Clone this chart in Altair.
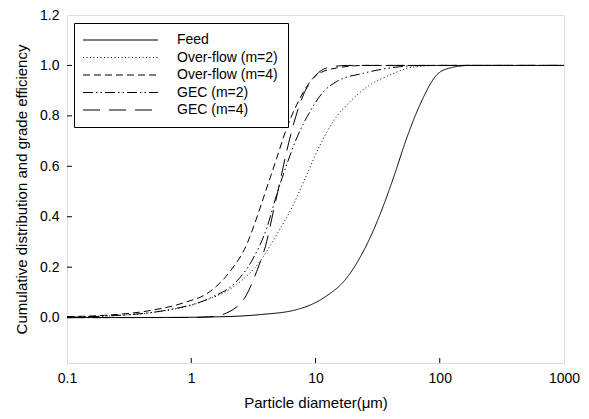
import altair as alt
import pandas as pd

# ---- data ----
series_names = ["Feed", "Over-flow (m=2)", "Over-flow (m=4)", "GEC (m=2)", "GEC (m=4)"]

feed_d = [0.1, 0.5, 1.6, 3.6, 7.1, 11.6, 17.8, 24.3, 33, 42.3, 54.2, 69.3, 94.5, 121, 175, 1000]
feed_y = [0.0, 0.0005, 0.003, 0.012, 0.032, 0.078, 0.157, 0.263, 0.408, 0.553, 0.712, 0.844, 0.962, 0.99, 1.0, 1.0]

of2_d = [0.1, 0.2, 0.466, 1.25, 2.32, 3.57, 4.87, 6.63, 8.5, 10.9, 13.9, 19.0, 27.5, 39.8, 60, 100, 1000]
of2_y = [0.002, 0.006, 0.019, 0.065, 0.131, 0.223, 0.329, 0.448, 0.566, 0.685, 0.778, 0.857, 0.923, 0.962, 0.993, 1.0, 1.0]

of4_d = [0.1, 0.2, 0.466, 0.86, 1.42, 2.05, 2.79, 3.36, 4.05, 4.87, 5.86, 7.06, 8.5, 10.2, 14.8, 25, 1000]
of4_y = [0.004, 0.009, 0.028, 0.058, 0.104, 0.183, 0.289, 0.395, 0.514, 0.632, 0.751, 0.844, 0.916, 0.962, 0.99, 1.0, 1.0]

gec2_d = [0.1, 0.2, 0.675, 1.42, 2.32, 3.16, 4.05, 4.87, 5.86, 7.06, 9.03, 11.6, 14.8, 24.3, 48, 80, 1000]
gec2_y = [0.002, 0.006, 0.032, 0.078, 0.144, 0.236, 0.355, 0.487, 0.606, 0.712, 0.817, 0.896, 0.936, 0.969, 0.995, 1.0, 1.0]

gec4_d = [0.1, 1.0, 1.42, 2.05, 2.79, 3.36, 4.05, 4.58, 5.18, 5.86, 6.63, 7.98, 9.6, 12.3, 18, 1000]
gec4_y = [0.0, 0.0005, 0.003, 0.025, 0.091, 0.183, 0.302, 0.421, 0.540, 0.659, 0.764, 0.883, 0.949, 0.99, 1.0, 1.0]

x_ticks = [0.1, 1, 10, 100, 1000]
y_ticks = [0.0, 0.2, 0.4, 0.6, 0.8, 1.0, 1.2]

# ---- build table ----
rows = []
for name, ds, ys in zip(series_names,
                        [feed_d, of2_d, of4_d, gec2_d, gec4_d],
                        [feed_y, of2_y, of4_y, gec2_y, gec4_y]):
    for i, (d, y) in enumerate(zip(ds, ys)):
        rows.append({"series": name, "d": d, "y": y, "order": i})
df = pd.DataFrame(rows)

W, H = 497, 348
FONT = "Liberation Sans"

xscale = alt.Scale(type="log", domain=[0.1, 1000], nice=False)
yscale = alt.Scale(domain=[-0.18, 1.2], nice=False, zero=False)

dash_range = [[1, 0], [1, 2.5], [7, 4], [10, 3, 1.5, 3, 1.5, 3], [17, 9]]

lines = alt.Chart(df).mark_line(color="black", strokeWidth=1, interpolate="monotone", clip=True).encode(
    x=alt.X("d:Q", scale=xscale,
            axis=alt.Axis(values=x_ticks, format="~g", title="Particle diameter(μm)",
                          grid=False, ticks=False, domain=False, labelPadding=8,
                          titlePadding=10, labelFontSize=14, titleFontSize=15,
                          labelFont=FONT, titleFont=FONT, titleFontWeight="normal",
                          labelColor="black", titleColor="black", labelFlush=False)),
    y=alt.Y("y:Q", scale=yscale,
            axis=alt.Axis(values=y_ticks, format=".1f",
                          title="Cumulative distribution and grade efficiency",
                          grid=False, ticks=False, domain=False, labelPadding=8,
                          titlePadding=10, labelFontSize=14, titleFontSize=15,
                          labelFont=FONT, titleFont=FONT, titleFontWeight="normal",
                          labelColor="black", titleColor="black")),
    strokeDash=alt.StrokeDash("series:N", title=None,
                              scale=alt.Scale(domain=series_names, range=dash_range),
                              legend=alt.Legend(orient="none", legendX=7, legendY=8,
                                                strokeColor="black", fillColor="white",
                                                padding=10, rowPadding=3.5,
                                                labelFont=FONT, labelFontSize=14,
                                                labelColor="black",
                                                symbolType="M-10,0H10", symbolSize=56.25,
                                                symbolStrokeColor="black", symbolStrokeWidth=1,
                                                symbolOffset=29.5, labelOffset=49.5,
                                                cornerRadius=0)),
    order="order:Q",
)

xt = alt.Chart(pd.DataFrame({"t": x_ticks[1:-1]})).mark_rule(color="black", strokeWidth=1).encode(
    x=alt.X("t:Q", scale=xscale), y=alt.value(H), y2=alt.value(H - 5))
yt = alt.Chart(pd.DataFrame({"t": y_ticks[:-1]})).mark_rule(color="black", strokeWidth=1).encode(
    y=alt.Y("t:Q", scale=yscale), x=alt.value(0), x2=alt.value(5))

chart = alt.layer(lines, xt, yt).properties(
    width=W, height=H,
    autosize=alt.AutoSizeParams(type="none"),
    padding={"left": 59, "top": 7, "right": 17, "bottom": 48},
).configure_view(stroke="black", strokeWidth=1).configure(background="white")

chart.save("out.html", embed_options={"renderer": "svg", "actions": False})
